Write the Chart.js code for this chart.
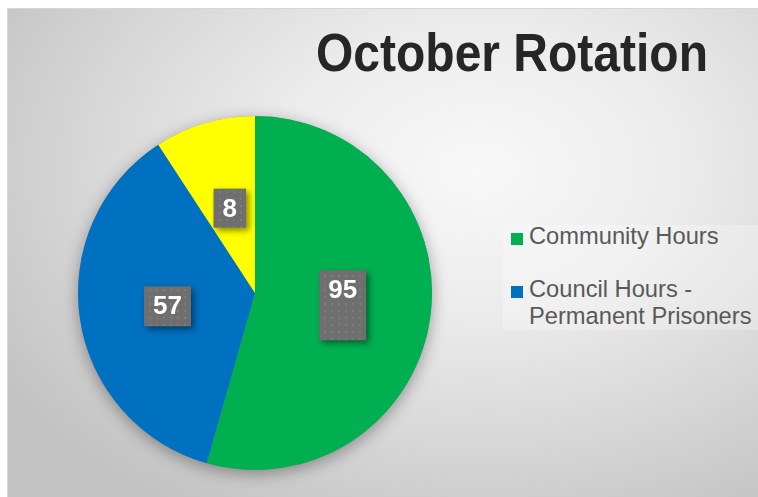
<!DOCTYPE html>
<html>
<head>
<meta charset="utf-8">
<script src="https://cdn.jsdelivr.net/npm/chart.js@4.4.1/dist/chart.umd.min.js"></script>
<style>
  html, body { margin: 0; padding: 0; background: #fff; }
  #wrap { position: relative; width: 758px; height: 497px; overflow: hidden; font-family: "Liberation Sans", Arial, sans-serif; }
  #bg {
    position: absolute; left: 7px; top: 8px; width: 760px; height: 500px;
    border: 1px solid #d6d6d6;
    background: radial-gradient(ellipse 75% 80% at 62% 32%, #f8f8f8 0%, #ececec 35%, #d6d6d6 70%, #c2c2c2 100%);
  }
  #chart { position: absolute; left: 0; top: 0; }
  #title {
    position: absolute; left: 312px; top: 31px; width: 400px; text-align: center;
    font-size: 48px; line-height: 48px; font-weight: bold; color: #262626;
    transform: scaleY(1.12); transform-origin: 50% 41px;
  }
  #legendBg { position: absolute; left: 503px; top: 225px; width: 255px; height: 105px; background: rgba(255,255,255,0.25); }
  #legend { position: absolute; left: 511px; top: 223px; display: flex; flex-direction: column; gap: 26px; }
  .item { display: flex; align-items: flex-start; }
  .box { width: 12px; height: 12px; margin-top: 10px; margin-right: 6px; flex: none; }
  .txt { font-size: 23.7px; line-height: 27px; color: #595959; width: 236px; }
</style>
</head>
<body>
<div id="wrap">
  <div id="bg"></div>
  <div id="title">October Rotation</div>
  <div id="legendBg"></div>
  <div id="legend"></div>
  <canvas id="chart" width="758" height="497"></canvas>
</div>
<script>
let categories = ['Community Hours', 'Council Hours - Permanent Prisoners', 'Other'];
// numbers printed on the slices
let shownHours = [95, 57, 8];
// share of the circle each slice takes in the picture (percent)
let sliceShares = [54.4, 36.4, 9.2];
let sliceColors = ['#00b050', '#0070c0', '#ffff00'];
let inLegend = [true, true, false];

// grey dotted fill for the value boxes
let makePattern = function (ctx) {
    let c = document.createElement('canvas');
    c.width = 7;
    c.height = 7;
    let p = c.getContext('2d');
    p.fillStyle = '#6f6f6f';
    p.fillRect(0, 0, 7, 7);
    p.fillStyle = '#7c7c7c';
    p.fillRect(2, 2, 2, 2);
    return ctx.createPattern(c, 'repeat');
}

let pieShadow = {
    id: 'pieShadow',
    beforeDatasetsDraw(chart) {
        let arc = chart.getDatasetMeta(0).data[0];
        let ctx = chart.ctx;
        ctx.save();
        ctx.shadowColor = 'rgba(0,0,0,0.35)';
        ctx.shadowBlur = 16;
        ctx.shadowOffsetY = 4;
        ctx.fillStyle = '#888';
        ctx.beginPath();
        ctx.arc(arc.x, arc.y, arc.outerRadius, 0, Math.PI * 2);
        ctx.fill();
        ctx.restore();
    }
};

let sliceLabels = {
    id: 'sliceLabels',
    afterDatasetsDraw(chart, args, opts) {
        let ctx = chart.ctx;
        let pattern = makePattern(ctx);
        chart.getDatasetMeta(0).data.forEach((arc, i) => {
            let pos = arc.tooltipPosition(true);
            let text = String(opts.texts[i]);
            let h = opts.heights[i];
            ctx.save();
            ctx.font = 'bold 26px "Liberation Sans", Arial, sans-serif';
            let w = ctx.measureText(text).width + 18;
            let top = pos.y - h / 2;
            ctx.shadowColor = 'rgba(0,0,0,0.45)';
            ctx.shadowBlur = 6;
            ctx.shadowOffsetX = 3;
            ctx.shadowOffsetY = 3;
            ctx.fillStyle = pattern;
            ctx.fillRect(pos.x - w / 2, top, w, h);
            ctx.restore();
            ctx.save();
            ctx.font = 'bold 26px "Liberation Sans", Arial, sans-serif';
            ctx.fillStyle = '#ffffff';
            ctx.textAlign = 'center';
            ctx.textBaseline = 'middle';
            ctx.fillText(text, pos.x, top + 21);
            ctx.restore();
        });
    }
};

let chart = new Chart(document.getElementById('chart'), {
    type: 'pie',
    data: {
        labels: categories,
        datasets: [{
            data: sliceShares,
            backgroundColor: sliceColors,
            borderWidth: 0
        }]
    },
    options: {
        responsive: false,
        animation: false,
        layout: {
            padding: { left: 78, top: 116, right: 326, bottom: 27 }
        },
        plugins: {
            legend: { display: false },
            tooltip: { enabled: false },
            sliceLabels: { texts: shownHours, heights: [70, 40, 39] }
        }
    },
    plugins: [pieShadow, sliceLabels]
});

// html legend built from the chart's own items
let legendEl = document.getElementById('legend');
chart.options.plugins.legend.labels.generateLabels(chart).forEach((item, i) => {
    if (!inLegend[i]) return;
    let row = document.createElement('div');
    row.className = 'item';
    let box = document.createElement('span');
    box.className = 'box';
    box.style.background = item.fillStyle;
    let txt = document.createElement('span');
    txt.className = 'txt';
    txt.textContent = item.text;
    row.appendChild(box);
    row.appendChild(txt);
    legendEl.appendChild(row);
});
</script>
</body>
</html>
